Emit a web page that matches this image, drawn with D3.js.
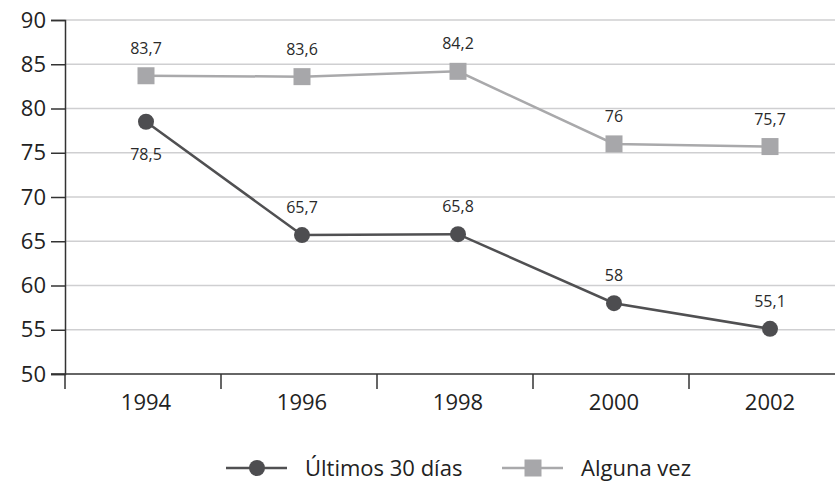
<!DOCTYPE html>
<html>
<head>
<meta charset="utf-8">
<script src="https://cdn.jsdelivr.net/npm/d3@7"></script>
<style>
  body { margin: 0; background: #fff; }
  svg text { font-family: "Open Sans", sans-serif; }
</style>
</head>
<body>
<div id="chart"></div>
<script>
var years = ["1994", "1996", "1998", "2000", "2002"];
var ultimos = [78.5, 65.7, 65.8, 58, 55.1];
var alguna = [83.7, 83.6, 84.2, 76, 75.7];
var yTicks = [50, 55, 60, 65, 70, 75, 80, 85, 90];
var seriesNames = ["Últimos 30 días", "Alguna vez"];

var width = 835, height = 481;

var svg = d3.select("#chart").append("svg")
    .attr("width", width)
    .attr("height", height);

var x = d3.scaleBand().domain(years).range([65, 845]);
var y = d3.scaleLinear().domain([50, 90]).range([374, 20]);
var px = function(d) { return x(d) + x.bandwidth() / 2 + 3; };

// gridlines
svg.append("g")
  .selectAll("line")
  .data(yTicks.slice(1))
  .enter().append("line")
    .attr("x1", 65).attr("x2", width)
    .attr("y1", function(d) { return y(d); })
    .attr("y2", function(d) { return y(d); })
    .attr("stroke", "#cfcfd1")
    .attr("stroke-width", 1.5);

// y axis
var yAxis = svg.append("g")
    .attr("transform", "translate(65,0)")
    .call(d3.axisLeft(y).tickValues(yTicks).tickSize(14).tickPadding(5));
yAxis.select(".domain").attr("stroke", "#333").attr("stroke-width", 1.5);
yAxis.selectAll(".tick line").attr("stroke", "#333").attr("stroke-width", 1.5);
yAxis.selectAll("text").attr("font-size", 22).attr("fill", "#222")
    .attr("font-family", "Open Sans, sans-serif");

// x axis
var xAxis = svg.append("g")
    .attr("transform", "translate(0,374)")
    .call(d3.axisBottom(x).tickSize(0).tickPadding(20));
xAxis.select(".domain").remove();
xAxis.selectAll("text").attr("font-size", 22).attr("fill", "#222")
    .attr("font-family", "Open Sans, sans-serif")
    .attr("dx", 3);
svg.append("line")
    .attr("x1", 51).attr("x2", width)
    .attr("y1", 374).attr("y2", 374)
    .attr("stroke", "#333").attr("stroke-width", 1.5);
svg.append("g")
  .selectAll("line")
  .data(years)
  .enter().append("line")
    .attr("x1", function(d) { return x(d); })
    .attr("x2", function(d) { return x(d); })
    .attr("y1", 374).attr("y2", 389)
    .attr("stroke", "#333").attr("stroke-width", 1.5);

var line = d3.line()
    .x(function(d, i) { return px(years[i]); })
    .y(function(d) { return y(d); });

// Alguna vez
svg.append("path")
    .attr("d", line(alguna))
    .attr("fill", "none")
    .attr("stroke", "#a9a9ab")
    .attr("stroke-width", 2.5);
svg.append("g")
  .selectAll("rect")
  .data(alguna)
  .enter().append("rect")
    .attr("x", function(d, i) { return px(years[i]) - 8.5; })
    .attr("y", function(d) { return y(d) - 8.5; })
    .attr("width", 17).attr("height", 17)
    .attr("fill", "#a7a7aa");

// Últimos 30 días
svg.append("path")
    .attr("d", line(ultimos))
    .attr("fill", "none")
    .attr("stroke", "#505052")
    .attr("stroke-width", 2.5);
svg.append("g")
  .selectAll("circle")
  .data(ultimos)
  .enter().append("circle")
    .attr("cx", function(d, i) { return px(years[i]); })
    .attr("cy", function(d) { return y(d); })
    .attr("r", 8)
    .attr("fill", "#4d4d50");

// value labels
var fmt = function(d) { return String(d).replace(".", ","); };
svg.append("g")
  .selectAll("text")
  .data(alguna)
  .enter().append("text")
    .attr("x", function(d, i) { return px(years[i]); })
    .attr("y", function(d) { return y(d) - 22; })
    .attr("text-anchor", "middle")
    .attr("font-size", 16)
    .attr("fill", "#2a2a2a")
    .text(fmt);
svg.append("g")
  .selectAll("text")
  .data(ultimos)
  .enter().append("text")
    .attr("x", function(d, i) { return px(years[i]); })
    .attr("y", function(d, i) { return i === 0 ? y(d) + 38 : y(d) - 22; })
    .attr("text-anchor", "middle")
    .attr("font-size", 16)
    .attr("fill", "#2a2a2a")
    .text(fmt);

// legend
var legend = svg.append("g").attr("transform", "translate(0,468)");
legend.append("line").attr("x1", 226).attr("x2", 287).attr("y1", 0).attr("y2", 0)
    .attr("stroke", "#505052").attr("stroke-width", 2.5);
legend.append("circle").attr("cx", 257).attr("cy", 0).attr("r", 8).attr("fill", "#4d4d50");
legend.append("text").attr("x", 305).attr("y", 8).attr("font-size", 22).attr("fill", "#222")
    .text(seriesNames[0]);
legend.append("line").attr("x1", 502).attr("x2", 563).attr("y1", 0).attr("y2", 0)
    .attr("stroke", "#a9a9ab").attr("stroke-width", 2.5);
legend.append("rect").attr("x", 524.5).attr("y", -8.5).attr("width", 17).attr("height", 17)
    .attr("fill", "#a7a7aa");
legend.append("text").attr("x", 581).attr("y", 8).attr("font-size", 22).attr("fill", "#222")
    .text(seriesNames[1]);
</script>
</body>
</html>
